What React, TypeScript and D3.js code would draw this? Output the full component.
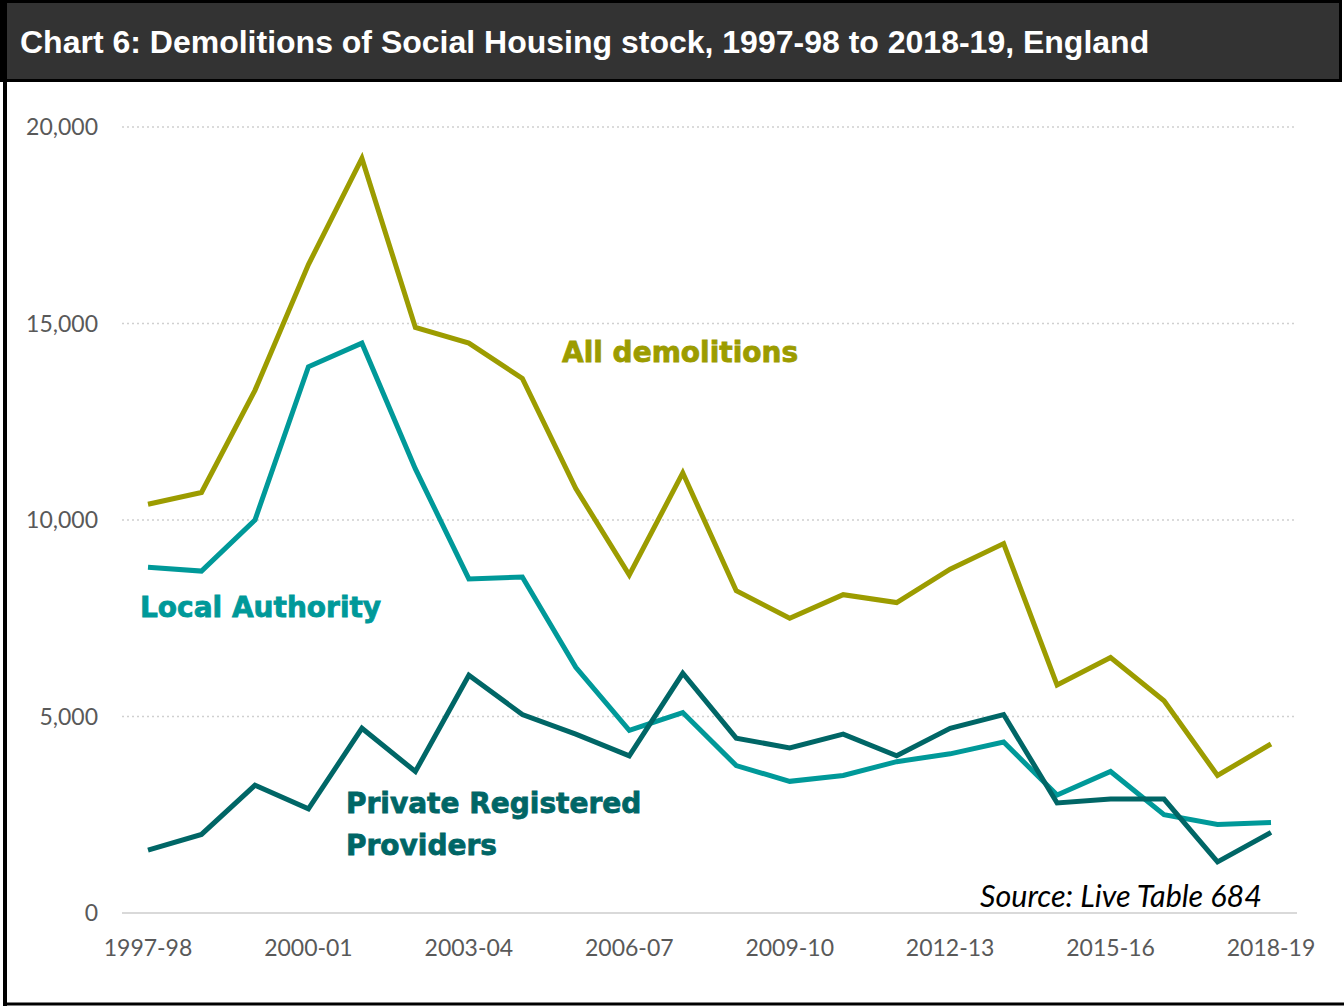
import React, { useEffect, useRef } from "react";
import * as d3 from "d3";

const years = [
  "1997-98","1998-99","1999-00","2000-01","2001-02","2002-03","2003-04","2004-05",
  "2005-06","2006-07","2007-08","2008-09","2009-10","2010-11","2011-12","2012-13",
  "2013-14","2014-15","2015-16","2016-17","2017-18","2018-19",
];
const tickYears = ["1997-98","2000-01","2003-04","2006-07","2009-10","2012-13","2015-16","2018-19"];
const yTicks = [0, 5000, 10000, 15000, 20000];

const allDemolitions = [10400,10700,13300,16500,19200,14900,14500,13600,10800,8600,11200,8200,7500,8100,7900,8750,9400,5800,6500,5400,3500,4300];
const localAuthority = [8800,8700,10000,13900,14500,11300,8500,8550,6250,4650,5100,3750,3350,3500,3850,4050,4350,3000,3600,2500,2250,2300];
const privateRegistered = [1600,2000,3250,2650,4700,3600,6050,5050,4550,4000,6100,4450,4200,4550,4000,4700,5050,2800,2900,2900,1300,2050];

const W = 1344, H = 1006;

export default function App() {
  const ref = useRef<SVGSVGElement>(null);
  useEffect(() => {
    const svg = d3.select(ref.current);
    svg.selectAll("*").remove();

    // outer frame
    svg.append("rect").attr("x", 0).attr("y", 0).attr("width", W).attr("height", H).attr("fill", "#fff");
    svg.append("rect").attr("x", 1.5).attr("y", 1.5).attr("width", 1339).attr("height", 79)
      .attr("fill", "#333333").attr("stroke", "#000").attr("stroke-width", 3);
    svg.append("line").attr("x1", 5).attr("x2", 5).attr("y1", 0).attr("y2", H).attr("stroke", "#000").attr("stroke-width", 4);
    svg.append("line").attr("x1", 3).attr("x2", W).attr("y1", 1004).attr("y2", 1004).attr("stroke", "#000").attr("stroke-width", 3);

    svg.append("text").attr("x", 20).attr("y", 53)
      .attr("font-family", "'Liberation Sans', Arial, sans-serif").attr("font-weight", "bold")
      .attr("font-size", 32).attr("fill", "#fff")
      .text("Chart 6: Demolitions of Social Housing stock, 1997-98 to 2018-19, England");

    const x = d3.scalePoint<string>().domain(years).range([148, 1271]);
    const y = d3.scaleLinear().domain([0, 20000]).range([913, 127]);

    const g = svg.append("g");
    // gridlines
    yTicks.forEach((t) => {
      g.append("line").attr("x1", 122).attr("x2", 1297).attr("y1", y(t)).attr("y2", y(t))
        .attr("stroke", t === 0 ? "#d9d9d9" : "#d0d0d0").attr("stroke-width", t === 0 ? 2 : 1.5)
        .attr("stroke-dasharray", t === 0 ? null : "2,3");
      g.append("text").attr("x", 98).attr("y", y(t)).attr("dy", "0.35em").attr("text-anchor", "end")
        .attr("font-family", "Lato, 'Open Sans', sans-serif").attr("font-size", 23).attr("fill", "#595959")
        .text(d3.format(",")(t));
    });
    tickYears.forEach((t) => {
      g.append("text").attr("x", x(t)!).attr("y", 956).attr("text-anchor", "middle")
        .attr("font-family", "Lato, 'Open Sans', sans-serif").attr("font-size", 23).attr("fill", "#595959")
        .text(t);
    });

    const line = d3.line<number>().x((_, i) => x(years[i])!).y((d) => y(d));
    const series: [number[], string][] = [
      [allDemolitions, "#9c9c00"],
      [localAuthority, "#009999"],
      [privateRegistered, "#006666"],
    ];
    series.forEach(([data, color]) => {
      g.append("path").datum(data).attr("d", line).attr("fill", "none").attr("stroke", color)
        .attr("stroke-width", 5).attr("stroke-linejoin", "miter");
    });

    const lbl = (tx: number, ty: number, s: string, c: string) =>
      g.append("text").attr("x", tx).attr("y", ty)
        .attr("font-family", "'DejaVu Sans', Verdana, sans-serif").attr("font-weight", "bold")
        .attr("font-size", 28).attr("fill", c).attr("stroke", c).attr("stroke-width", 0.8)
        .text(s);
    lbl(562, 362, "All demolitions", "#9c9c00");
    lbl(140, 617, "Local Authority", "#009999");
    lbl(346, 813, "Private Registered", "#006666");
    lbl(346, 855, "Providers", "#006666");

    g.append("text").attr("x", 1262).attr("y", 907).attr("text-anchor", "end")
      .attr("font-family", "Lato, 'Open Sans', sans-serif").attr("font-style", "italic")
      .attr("font-size", 30.5).attr("fill", "#000").text("Source: Live Table 684");
  }, []);
  return <svg ref={ref} width={W} height={H} style={{ position: "absolute", left: 0, top: 0 }} />;
}
